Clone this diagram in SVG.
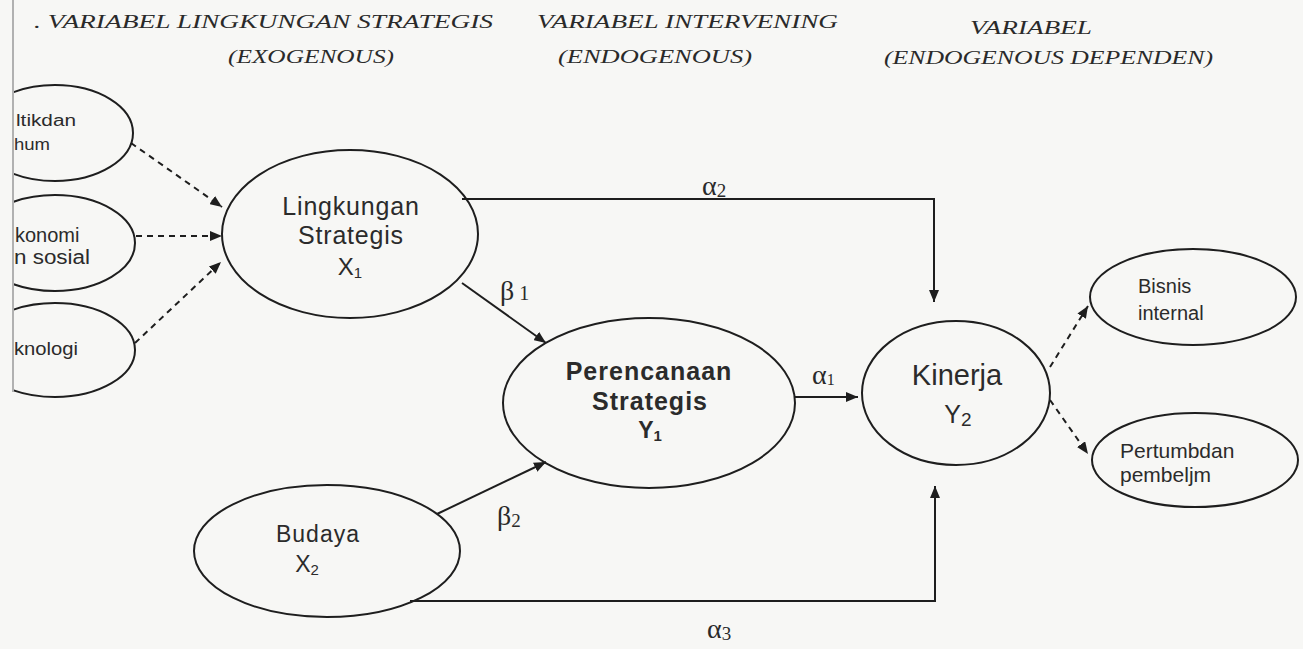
<svg xmlns="http://www.w3.org/2000/svg" width="1303" height="649" viewBox="0 0 1303 649">
<defs>
<style>
.hdr{font-family:"Liberation Serif","Times New Roman",serif;font-style:italic;font-size:18px;fill:#2a2a2a}
.node{fill:none;stroke:#1e1e1e;stroke-width:2}
.lbl{font-family:"Liberation Sans",Arial,sans-serif;fill:#2b2b2b}
.gk{font-family:"Liberation Serif","Times New Roman",serif;font-size:28px;fill:#2a2a2a}
.edge{fill:none;stroke:#1e1e1e;stroke-width:2}
.dash{fill:none;stroke:#1e1e1e;stroke-width:2;stroke-dasharray:6 5}
</style>
<marker id="ah" viewBox="0 0 12 10" refX="12" refY="5" markerWidth="12" markerHeight="10" markerUnits="userSpaceOnUse" orient="auto">
<path d="M0,0 L12,5 L0,10 Z" fill="#1e1e1e"/>
</marker>
<clipPath id="leftclip"><rect x="14" y="0" width="1289" height="649"/></clipPath>
</defs>
<rect width="1303" height="649" fill="#f7f7f5"/>
<line x1="13" y1="0" x2="13" y2="392" stroke="#9a9a9a" stroke-width="1.5"/>

<g id="headers">
<text class="hdr" x="34" y="28" textLength="459" lengthAdjust="spacingAndGlyphs">.  VARIABEL LINGKUNGAN STRATEGIS</text>
<text class="hdr" x="228" y="63" textLength="166" lengthAdjust="spacingAndGlyphs">(EXOGENOUS)</text>
<text class="hdr" x="537" y="28" textLength="301" lengthAdjust="spacingAndGlyphs">VARIABEL INTERVENING</text>
<text class="hdr" x="558" y="63" textLength="194" lengthAdjust="spacingAndGlyphs">(ENDOGENOUS)</text>
<text class="hdr" x="970" y="34" textLength="122" lengthAdjust="spacingAndGlyphs">VARIABEL</text>
<text class="hdr" x="884" y="64" textLength="329" lengthAdjust="spacingAndGlyphs">(ENDOGENOUS DEPENDEN)</text>
</g>

<g id="connectors">
<line class="dash" x1="131" y1="143" x2="222" y2="207" marker-end="url(#ah)"/>
<line class="dash" x1="136" y1="236" x2="222" y2="236" marker-end="url(#ah)"/>
<line class="dash" x1="135" y1="343" x2="221" y2="262" marker-end="url(#ah)"/>
<polyline class="edge" points="462,199 934,199 934,302" marker-end="url(#ah)"/>
<line class="edge" x1="462" y1="283" x2="546" y2="343" marker-end="url(#ah)"/>
<line class="edge" x1="795" y1="397" x2="858" y2="397" marker-end="url(#ah)"/>
<line class="edge" x1="437" y1="514" x2="546" y2="462" marker-end="url(#ah)"/>
<polyline class="edge" points="410,601 935,601 935,486" marker-end="url(#ah)"/>
<line class="dash" x1="1050" y1="367" x2="1088" y2="306" marker-end="url(#ah)"/>
<line class="dash" x1="1050" y1="400" x2="1088" y2="454" marker-end="url(#ah)"/>
<text class="gk" x="702" y="195">α<tspan font-size="19" dy="2">2</tspan></text>
<text class="gk" x="500" y="300">β<tspan font-size="20"> 1</tspan></text>
<text class="gk" x="812" y="384">α<tspan font-size="16" dy="1">1</tspan></text>
<text class="gk" x="497" y="525">β<tspan font-size="19" dy="2">2</tspan></text>
<text class="gk" x="707" y="638">α<tspan font-size="19" dy="2">3</tspan></text>
</g>

<g id="politik-hukum" clip-path="url(#leftclip)">
<ellipse class="node" cx="55" cy="133" rx="78" ry="48"/>
<text class="lbl" x="16" y="126" font-size="16" textLength="60" lengthAdjust="spacingAndGlyphs">ltikdan</text>
<text class="lbl" x="14" y="150" font-size="16" textLength="36" lengthAdjust="spacingAndGlyphs">hum</text>
</g>
<g id="ekonomi-sosial" clip-path="url(#leftclip)">
<ellipse class="node" cx="55" cy="243" rx="80" ry="48"/>
<text class="lbl" x="15" y="242" font-size="20">konomi</text>
<text class="lbl" x="14" y="264" font-size="20" textLength="76" lengthAdjust="spacingAndGlyphs">n sosial</text>
</g>
<g id="teknologi" clip-path="url(#leftclip)">
<ellipse class="node" cx="55" cy="350" rx="80" ry="47"/>
<text class="lbl" x="14" y="355" font-size="18" textLength="64" lengthAdjust="spacingAndGlyphs">knologi</text>
</g>

<g id="lingkungan-strategis">
<ellipse class="node" cx="350" cy="234" rx="128" ry="84"/>
<text class="lbl" x="351" y="215" font-size="25" letter-spacing="0.8" text-anchor="middle">Lingkungan</text>
<text class="lbl" x="351" y="244" font-size="25" letter-spacing="0.8" text-anchor="middle">Strategis</text>
<text class="lbl" x="350" y="275" font-size="24" text-anchor="middle">X<tspan font-size="15" dy="3">1</tspan></text>
</g>

<g id="perencanaan-strategis">
<ellipse class="node" cx="649" cy="403" rx="146" ry="85"/>
<text class="lbl" x="649" y="380" font-size="25" font-weight="bold" letter-spacing="1" text-anchor="middle">Perencanaan</text>
<text class="lbl" x="650" y="410" font-size="25" font-weight="bold" letter-spacing="1" text-anchor="middle">Strategis</text>
<text class="lbl" x="650" y="438" font-size="23" font-weight="bold" text-anchor="middle">Y<tspan font-size="15" dy="3">1</tspan></text>
</g>

<g id="kinerja">
<ellipse class="node" cx="956" cy="393" rx="94" ry="72"/>
<text class="lbl" x="957" y="385" font-size="29" text-anchor="middle">Kinerja</text>
<text class="lbl" x="958" y="423" font-size="25" text-anchor="middle">Y<tspan font-size="19" dy="3">2</tspan></text>
</g>

<g id="budaya">
<ellipse class="node" cx="327" cy="551" rx="133" ry="66"/>
<text class="lbl" x="318" y="542" font-size="23" letter-spacing="1" text-anchor="middle">Budaya</text>
<text class="lbl" x="307" y="572" font-size="23" text-anchor="middle">X<tspan font-size="15" dy="3">2</tspan></text>
</g>

<g id="bisnis-internal">
<ellipse class="node" cx="1193" cy="297" rx="103" ry="48"/>
<text class="lbl" x="1138" y="293" font-size="20">Bisnis</text>
<text class="lbl" x="1138" y="320" font-size="20">internal</text>
</g>

<g id="pertumbuhan-pembelajaran">
<ellipse class="node" cx="1195" cy="460" rx="103" ry="47"/>
<text class="lbl" x="1120" y="458" font-size="21">Pertumbdan</text>
<text class="lbl" x="1120" y="482" font-size="21">pembeljm</text>
</g>
</svg>
